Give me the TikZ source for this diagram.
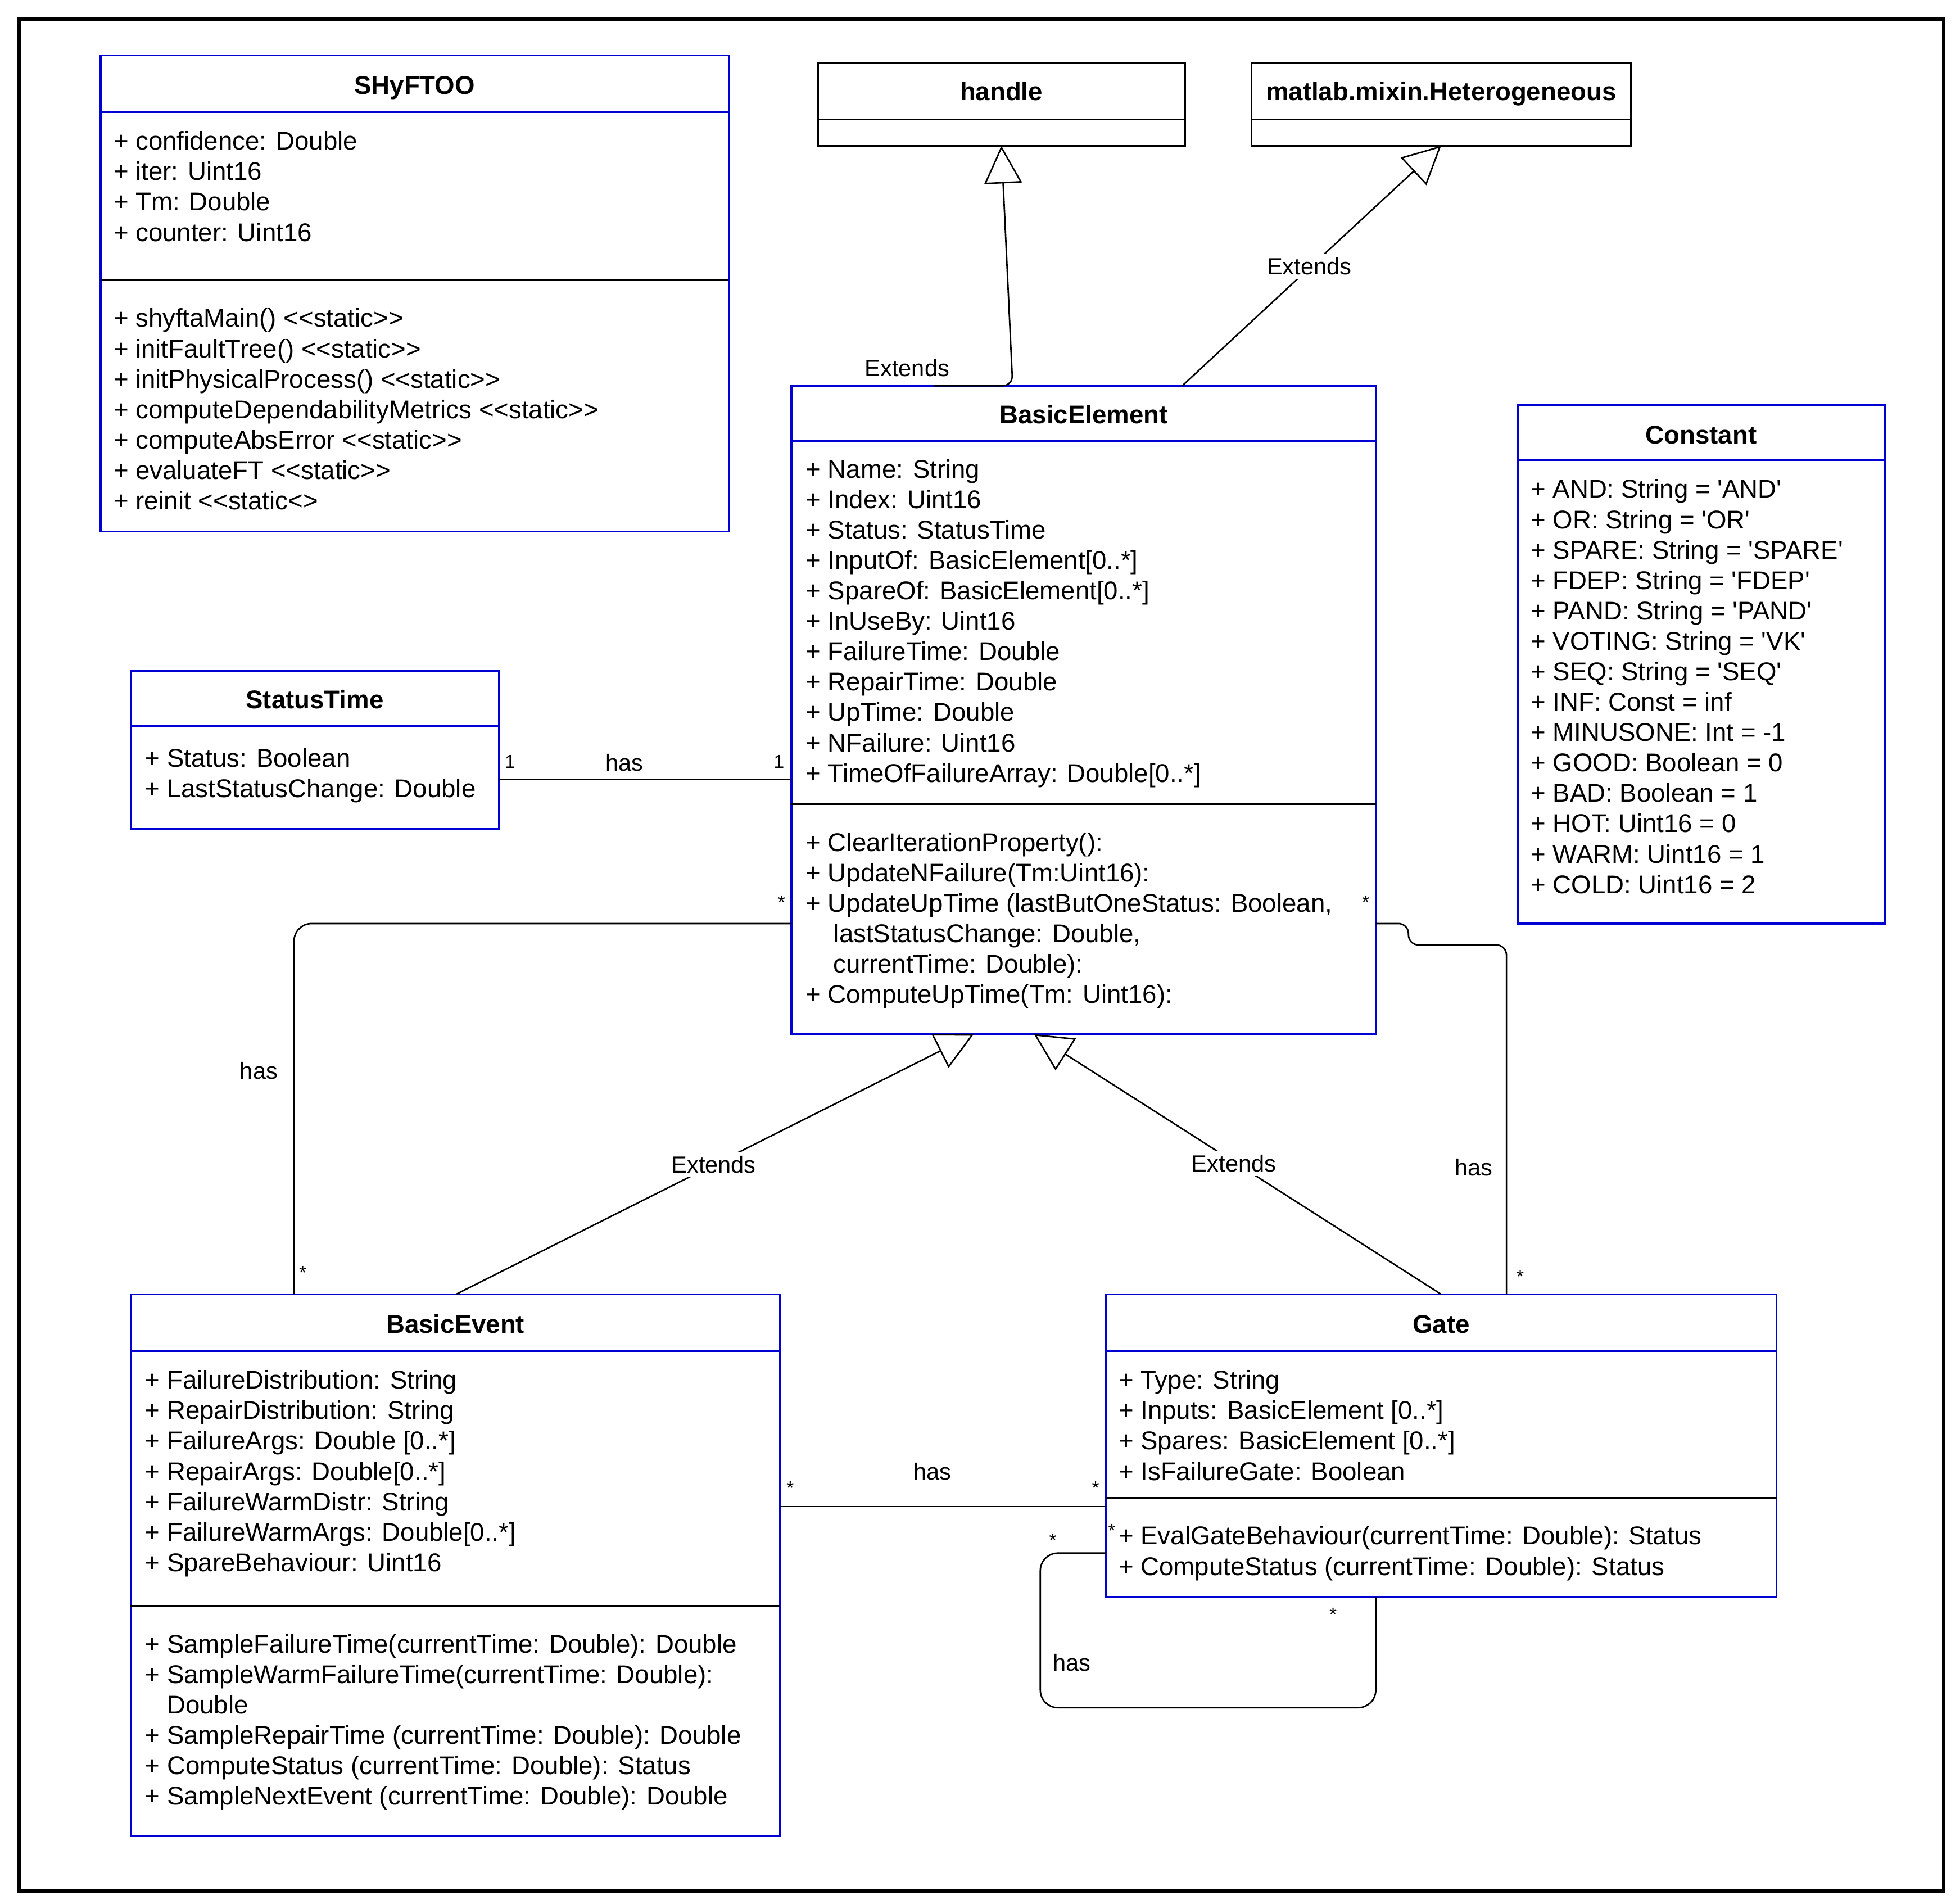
\documentclass[tikz,border=0pt]{standalone}
\usepackage{fontspec}
\setmainfont{Liberation Sans}[Ligatures=TeXOff]
\usetikzlibrary{arrows.meta,calc}
\definecolor{umlblue}{RGB}{0,0,210}
\newcommand\bodyfont{\fontsize{10.2}{12.1}\selectfont}
\newcommand\titlefont{\fontsize{10.2}{12.1}\selectfont\bfseries}
\newcommand\lblfont{\fontsize{9.3}{11}\selectfont}
\newcommand\multfont{\fontsize{7.5}{9}\selectfont}
\begin{document}
\begin{tikzpicture}[x=0.5pt,y=-0.5pt,
  framebox/.style={draw=black, line width=1.5pt, anchor=north west, inner sep=0pt, outer sep=0pt},
  umlbox/.style={draw=umlblue, line width=0.8pt, anchor=north west, inner sep=0pt, outer sep=0pt},
  plainbox/.style={draw=black, line width=0.8pt, anchor=north west, inner sep=0pt, outer sep=0pt},
  bluediv/.style={draw=umlblue, line width=0.8pt},
  blackdiv/.style={draw=black, line width=0.8pt},
  ctitle/.style={font=\titlefont, anchor=base, inner sep=0pt},
  clines/.style={font=\bodyfont, align=left, anchor=north west, inner sep=0pt},
  lbl/.style={font=\lblfont, inner sep=1pt},
  lblw/.style={font=\lblfont, inner sep=1.5pt, fill=white},
  mult/.style={font=\multfont, inner sep=0pt},
  conn/.style={draw=black, line width=0.6pt},
  ext/.style={conn, -{Triangle[open, length=15pt, width=15pt]}}
]
\useasboundingbox (0,0) rectangle (1560,1515);
\node[framebox, minimum width=766pt, minimum height=745pt] (frame) at (15,15) {};

% ---------------- SHyFTOO
\node[umlbox, minimum width=250pt, minimum height=189.5pt] (shy) at (80,44) {};
\draw[bluediv] ($(shy.north west)+(0,45)$) -- ($(shy.north east)+(0,45)$);
\draw[blackdiv] ($(shy.north west)+(0,179)$) -- ($(shy.north east)+(0,179)$);
\node[ctitle] (shyT) at ($(shy.north)+(0,31)$) {SHyFTOO};
\node[clines] (shyA) at (90,102) {\strut+ confidence: Double\\+ iter: Uint16\\+ Tm: Double\\+ counter: Uint16};
\node[clines] (shyM) at (90,243) {\strut+ shyftaMain() <<static>>\\+ initFaultTree() <<static>>\\+ initPhysicalProcess() <<static>>\\+ computeDependabilityMetrics <<static>>\\+ computeAbsError <<static>>\\+ evaluateFT <<static>>\\+ reinit <<static<>};

% ---------------- handle
\node[plainbox, minimum width=146pt, minimum height=33pt] (hdl) at (651,50) {};
\draw[blackdiv] ($(hdl.north west)+(0,45)$) -- ($(hdl.north east)+(0,45)$);
\node[ctitle] (hdlT) at ($(hdl.north)+(0,30)$) {handle};

% ---------------- matlab.mixin.Heterogeneous
\node[plainbox, minimum width=151pt, minimum height=33pt] (mat) at (996,50) {};
\draw[blackdiv] ($(mat.north west)+(0,45)$) -- ($(mat.north east)+(0,45)$);
\node[ctitle] (matT) at ($(mat.north)+(0,30)$) {matlab.mixin.Heterogeneous};

% ---------------- BasicElement
\node[umlbox, minimum width=232.5pt, minimum height=258pt] (be) at (630,307) {};
\draw[bluediv] ($(be.north west)+(0,44)$) -- ($(be.north east)+(0,44)$);
\draw[blackdiv] ($(be.north west)+(0,333)$) -- ($(be.north east)+(0,333)$);
\node[ctitle] (beT) at ($(be.north)+(0,30)$) {BasicElement};
\node[clines] (beA) at (641,363) {\strut+ Name: String\\+ Index: Uint16\\+ Status: StatusTime\\+ InputOf: BasicElement[0..*]\\+ SpareOf: BasicElement[0..*]\\+ InUseBy: Uint16\\+ FailureTime: Double\\+ RepairTime: Double\\+ UpTime: Double\\+ NFailure: Uint16\\+ TimeOfFailureArray: Double[0..*]};
\node[clines] (beM) at (641,660) {\strut+ ClearIterationProperty():\\+ UpdateNFailure(Tm:Uint16):\\+ UpdateUpTime (lastButOneStatus: Boolean,\\\hspace*{11pt}lastStatusChange: Double,\\\hspace*{11pt}currentTime: Double):\\+ ComputeUpTime(Tm: Uint16):};

% ---------------- Constant
\node[umlbox, minimum width=146pt, minimum height=206.5pt] (cst) at (1208,322) {};
\draw[bluediv] ($(cst.north west)+(0,44)$) -- ($(cst.north east)+(0,44)$);
\node[ctitle] (cstT) at ($(cst.north)+(0,31)$) {Constant};
\node[clines] (cstA) at (1218,379) {\strut+ AND: String = 'AND'\\+ OR: String = 'OR'\\+ SPARE: String = 'SPARE'\\+ FDEP: String = 'FDEP'\\+ PAND: String = 'PAND'\\+ VOTING: String = 'VK'\\+ SEQ: String = 'SEQ'\\+ INF: Const = inf\\+ MINUSONE: Int = -1\\+ GOOD: Boolean = 0\\+ BAD: Boolean = 1\\+ HOT: Uint16 = 0\\+ WARM: Uint16 = 1\\+ COLD: Uint16 = 2};

% ---------------- StatusTime
\node[umlbox, minimum width=146.5pt, minimum height=63pt] (st) at (104,534) {};
\draw[bluediv] ($(st.north west)+(0,44)$) -- ($(st.north east)+(0,44)$);
\node[ctitle] (stT) at ($(st.north)+(0,30)$) {StatusTime};
\node[clines] (stA) at (115,593) {\strut+ Status: Boolean\\+ LastStatusChange: Double};

% ---------------- BasicEvent
\node[umlbox, minimum width=258.5pt, minimum height=215.5pt] (bev) at (104,1030) {};
\draw[bluediv] ($(bev.north west)+(0,45)$) -- ($(bev.north east)+(0,45)$);
\draw[blackdiv] ($(bev.north west)+(0,248)$) -- ($(bev.north east)+(0,248)$);
\node[ctitle] (bevT) at ($(bev.north)+(0,31)$) {BasicEvent};
\node[clines] (bevA) at (115,1088) {\strut+ FailureDistribution: String\\+ RepairDistribution: String\\+ FailureArgs: Double [0..*]\\+ RepairArgs: Double[0..*]\\+ FailureWarmDistr: String\\+ FailureWarmArgs: Double[0..*]\\+ SpareBehaviour: Uint16};
\node[clines] (bevM) at (115,1298) {\strut+ SampleFailureTime(currentTime: Double): Double\\+ SampleWarmFailureTime(currentTime: Double):\\\hspace*{8.8pt}Double\\+ SampleRepairTime (currentTime: Double): Double\\+ ComputeStatus (currentTime: Double): Status\\+ SampleNextEvent (currentTime: Double): Double};

% ---------------- Gate
\node[umlbox, minimum width=267pt, minimum height=120.5pt] (gate) at (880,1030) {};
\draw[bluediv] ($(gate.north west)+(0,45)$) -- ($(gate.north east)+(0,45)$);
\draw[blackdiv] ($(gate.north west)+(0,162)$) -- ($(gate.north east)+(0,162)$);
\node[ctitle] (gateT) at ($(gate.north)+(0,31)$) {Gate};
\node[clines] (gateA) at (890,1088) {\strut+ Type: String\\+ Inputs: BasicElement [0..*]\\+ Spares: BasicElement [0..*]\\+ IsFailureGate: Boolean};
\node[clines] (gateM) at (890,1212) {\strut+ EvalGateBehaviour(currentTime: Double): Status\\+ ComputeStatus (currentTime: Double): Status};

% ---------------- connectors
% BasicElement -> handle
\draw[ext, rounded corners=4pt] ($(be.north west)+(113,0)$) -- ($(be.north west)+(176,0)$) -- (hdl.south);
\node[lbl] (l1) at (722,293) {Extends};
% BasicElement -> matlab
\draw[ext] ($(be.north west)+(311,0)$) -- (mat.south);
\node[lblw] (l2) at (1042,212) {Extends};
% StatusTime -- BasicElement
\draw[conn] ($(st.north east)+(0,86)$) -- ($(be.north west)+(0,313)$);
\node[mult] (m1) at (406,606) {1};
\node[lbl] (l3) at (497,607) {has};
\node[mult] (m2) at (620,606) {1};
% BasicElement -- BasicEvent
\draw[conn, rounded corners=7pt] ($(be.north west)+(0,428)$) -- (234,735) -- ($(bev.north west)+(130,0)$);
\node[mult] (m3) at (622,718) {*};
\node[lbl] (l4) at (206,852) {has};
\node[mult] (m4) at (241,1013) {*};
% BasicEvent -> BasicElement
\draw[ext] ($(bev.north west)+(259,0)$) -- ($(be.south west)+(145,0)$);
\node[lblw] (l5) at (568,927) {Extends};
% Gate -> BasicElement
\draw[ext] ($(gate.north west)+(267,0)$) -- ($(be.south west)+(193,0)$);
\node[lblw] (l6) at (982,926) {Extends};
% BasicElement -- Gate
\draw[conn, rounded corners=4pt] ($(be.north east)+(0,428)$) -- (1121,735) -- (1121,752) -- (1199,752) -- ($(gate.north west)+(319,0)$);
\node[mult] (m5) at (1087,718) {*};
\node[lbl] (l7) at (1173,929) {has};
\node[mult] (m6) at (1210,1016) {*};
% BasicEvent -- Gate
\draw[conn] ($(bev.north east)+(0,169)$) -- ($(gate.north west)+(0,169)$);
\node[mult] (m7) at (629,1184) {*};
\node[lbl] (l8) at (742,1171) {has};
\node[mult] (m8) at (872,1184) {*};
% Gate self loop
\draw[conn, rounded corners=7pt] ($(gate.north west)+(0,206)$) -- (828,1236) -- (828,1359) -- (1095,1359) -- ($(gate.south west)+(215,0)$);
\node[mult] (m9) at (838,1226) {*};
\node[lbl] (l9) at (853,1323) {has};
\node[mult] (m10) at (1061,1285) {*};
\node[mult] (m11) at (885,1218) {*};
\end{tikzpicture}
\end{document}
